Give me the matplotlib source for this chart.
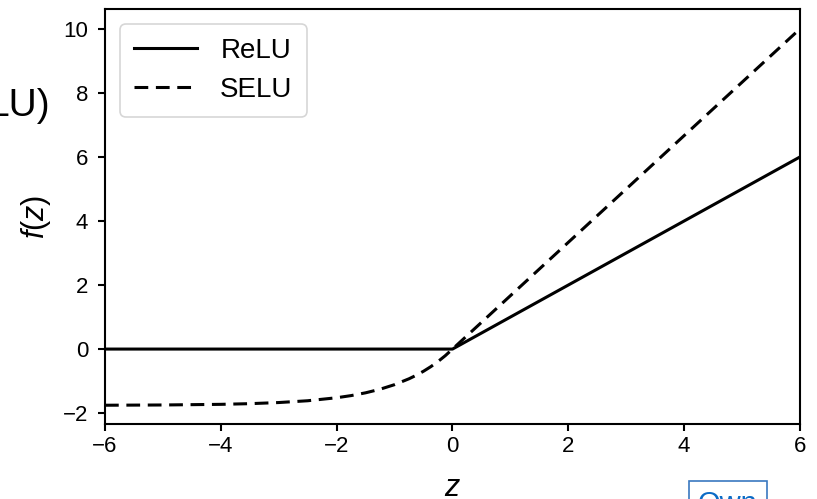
import matplotlib
matplotlib.use("Agg")
import matplotlib.pyplot as plt

plt.rcParams["font.family"] = ["Liberation Sans", "DejaVu Sans"]
plt.rcParams["mathtext.fontset"] = "custom"
plt.rcParams["mathtext.rm"] = "Liberation Sans"
plt.rcParams["mathtext.it"] = "Liberation Sans:italic"

# Activation curves
relu_z = [-6.0, 0.0, 6.0]
relu_f = [0.0, 0.0, 6.0]

selu_z = [-6.0, -5.0, -4.0, -3.5, -3.0, -2.5, -2.0, -1.75, -1.5, -1.25,
          -1.0, -0.75, -0.625, -0.5, -0.375, -0.25, -0.125, 0.0, 6.0]
selu_f = [-1.754, -1.746, -1.726, -1.705, -1.670, -1.614, -1.520, -1.453,
          -1.366, -1.254, -1.111, -0.927, -0.817, -0.692, -0.550, -0.389,
          -0.207, 0.0, 10.0]

x_ticks = [-6, -4, -2, 0, 2, 4, 6]
y_ticks = [-2, 0, 2, 4, 6, 8, 10]

fig = plt.figure(figsize=(8.17, 4.99), dpi=100)
ax = fig.add_axes([0.1285, 0.1503, 0.8507, 0.8317])

ax.plot(relu_z, relu_f, color="black", lw=2.2, label="ReLU")
ax.plot(selu_z, selu_f, color="black", lw=2.2, ls=(0, (4.5, 2.5)), label="SELU")

ax.set_xlim(-6, 6)
ax.set_ylim(-2.34, 10.62)
ax.set_xticks(x_ticks)
ax.set_yticks(y_ticks)
ax.tick_params(labelsize=16, width=1.5, length=5)
ax.tick_params(axis="y", pad=7)
for sp in ax.spines.values():
    sp.set_linewidth(1.5)

ax.set_xlabel("$z$", fontsize=22, labelpad=12)
ax.set_ylabel("$f(z)$", fontsize=22, labelpad=7)

leg = ax.legend(loc="upper left", fontsize=20, handlelength=2.25,
                borderpad=0.5, labelspacing=0.45, handletextpad=0.85,
                borderaxespad=0.55)
leg.get_frame().set_linewidth(1.2)

fig.text(0.062, 0.787, "LU)", fontsize=28, ha="right", va="center")
fig.text(0.891, -0.026, "Own", fontsize=21, color="#0b6bc6", ha="center",
         va="baseline",
         bbox=dict(boxstyle="square,pad=0.3", fc="white", ec="#3a78c0", lw=1.2))

fig.savefig("out.png", dpi=100)
